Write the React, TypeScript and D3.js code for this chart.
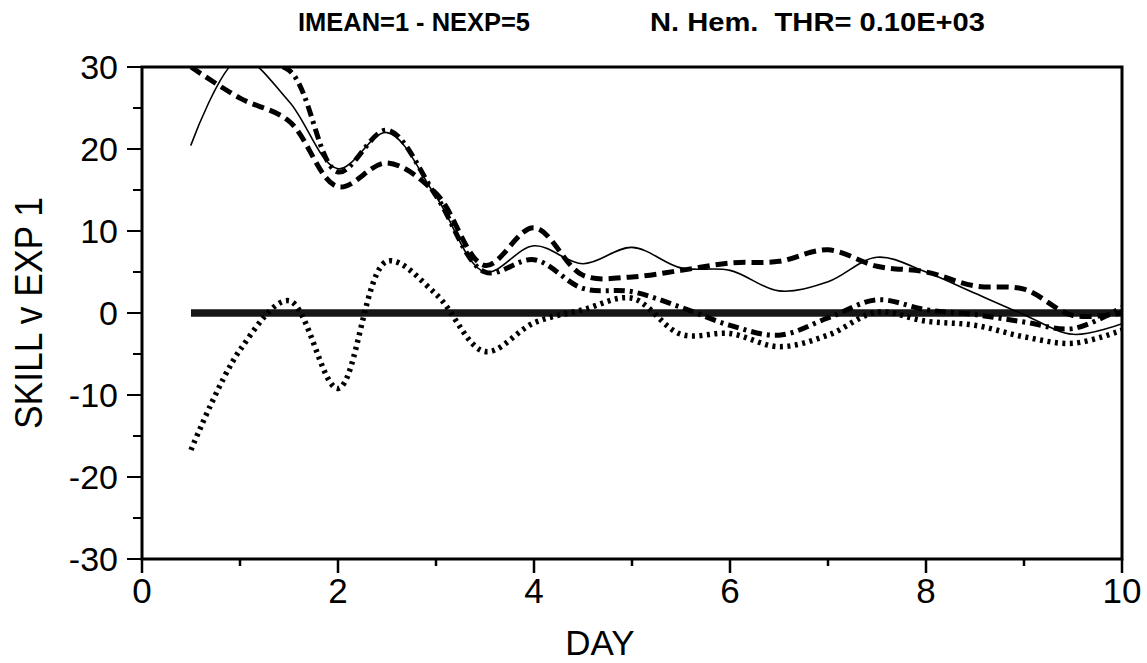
import React from "react";
import * as d3 from "d3";

// Forecast day of each sample
const days = [0.5, 1, 1.5, 2, 2.5, 3, 3.5, 4, 4.5, 5, 5.5, 6, 6.5, 7, 7.5, 8, 8.5, 9, 9.5, 10];

// Skill difference of each experiment relative to EXP 1
const exp1 = [0, 0, 0, 0, 0, 0, 0, 0, 0, 0, 0, 0, 0, 0, 0, 0, 0, 0, 0, 0];
const exp2 = [20.5, 31.0, 25.8, 17.6, 22.0, 14.2, 5.0, 8.2, 6.0, 8.0, 5.5, 5.2, 2.7, 3.8, 6.8, 5.0, 2.4, -0.2, -2.6, -1.3];
const exp3 = [30.0, 26.2, 23.4, 15.4, 18.3, 14.6, 5.8, 10.4, 4.6, 4.4, 5.2, 6.1, 6.3, 7.7, 5.7, 5.0, 3.3, 2.9, -0.3, 0.0];
const exp4 = [33.0, 30.6, 29.6, 17.2, 22.3, 14.3, 5.0, 6.5, 3.0, 2.6, 0.7, -1.5, -2.7, -0.6, 1.6, 0.4, -0.2, -1.1, -1.9, 0.7];
const exp5 = [-16.7, -4.5, 1.5, -9.2, 6.3, 2.3, -4.7, -1.2, 0.4, 1.8, -2.6, -2.5, -4.1, -2.7, 0.1, -1.0, -1.5, -2.9, -3.7, -2.1];

const xTicks = [0, 2, 4, 6, 8, 10];
const xMinorTicks = [1, 3, 5, 7, 9];
const yTicks = [-30, -20, -10, 0, 10, 20, 30];
const yMinorTicks = [-25, -15, -5, 5, 15, 25];

const titleLeft = "IMEAN=1 - NEXP=5";
const titleRight = "N. Hem.  THR= 0.10E+03";
const xLabel = "DAY";
const yLabel = "SKILL v EXP 1";

const W = 1147;
const H = 663;
const left = 142;
const right = 1122;
const top = 67;
const bottom = 559;

const FONT = "'Liberation Sans', Arial, Helvetica, sans-serif";

export default function App() {
  const x = d3.scaleLinear().domain([0, 10]).range([left, right]);
  const y = d3.scaleLinear().domain([-30, 30]).range([bottom, top]);

  const line = (vals: number[]) =>
    d3
      .line<number>()
      .x((_, i) => x(days[i]))
      .y((v) => y(v))
      .curve(d3.curveCatmullRom.alpha(0.5))(vals) || "";

  const series = [
    { vals: exp1, width: 7.5, dash: "none", color: "#161616", cap: "butt" },
    { vals: exp2, width: 1.6, dash: "none", color: "#000", cap: "round" },
    { vals: exp3, width: 5, dash: "12,6", color: "#000", cap: "butt" },
    { vals: exp4, width: 5, dash: "11,5,3,5", color: "#000", cap: "butt" },
    { vals: exp5, width: 5.5, dash: "3,4.5", color: "#000", cap: "butt" },
  ];

  return (
    <svg
      width={W}
      height={H}
      viewBox={`0 0 ${W} ${H}`}
      style={{ position: "fixed", left: 0, top: 0, background: "#fff" }}
    >
      <defs>
        <clipPath id="plot">
          <rect x={left} y={top} width={right - left} height={bottom - top} />
        </clipPath>
      </defs>
      <rect width={W} height={H} fill="#fff" />

      {/* title */}
      <text x={298} y={31} fontFamily={FONT} fontWeight="bold" fontSize={26} textLength={232} lengthAdjust="spacingAndGlyphs">
        {titleLeft}
      </text>
      <text x={650} y={31} fontFamily={FONT} fontWeight="bold" fontSize={26} textLength={335} lengthAdjust="spacingAndGlyphs" style={{ whiteSpace: "pre" }}>
        {titleRight}
      </text>

      {/* curves */}
      <g clipPath="url(#plot)" fill="none">
        {series.map((s, i) => (
          <path
            key={i}
            d={line(s.vals)}
            stroke={s.color}
            strokeWidth={s.width}
            strokeDasharray={s.dash}
            strokeLinecap={s.cap as any}
            strokeLinejoin="round"
          />
        ))}
      </g>

      {/* frame */}
      <rect x={left} y={top} width={right - left} height={bottom - top} fill="none" stroke="#000" strokeWidth={3} />

      {/* x ticks */}
      {xTicks.map((t) => (
        <g key={`xt${t}`}>
          <line x1={x(t)} x2={x(t)} y1={bottom} y2={bottom + 14} stroke="#000" strokeWidth={2.5} />
          <text x={x(t)} y={bottom + 44} textAnchor="middle" fontFamily={FONT} fontSize={35}>
            {t}
          </text>
        </g>
      ))}
      {xMinorTicks.map((t) => (
        <line key={`xm${t}`} x1={x(t)} x2={x(t)} y1={bottom} y2={bottom + 7} stroke="#000" strokeWidth={2.5} />
      ))}

      {/* y ticks */}
      {yTicks.map((t) => (
        <g key={`yt${t}`}>
          <line x1={left - 15} x2={left} y1={y(t)} y2={y(t)} stroke="#000" strokeWidth={2} />
          <text x={118} y={y(t) + 12} textAnchor="end" fontFamily={FONT} fontSize={34}>
            {t}
          </text>
        </g>
      ))}
      {yMinorTicks.map((t) => (
        <line key={`ym${t}`} x1={left - 9} x2={left} y1={y(t)} y2={y(t)} stroke="#000" strokeWidth={2} />
      ))}

      {/* axis titles */}
      <text x={600} y={655} textAnchor="middle" fontFamily={FONT} fontSize={35}>
        {xLabel}
      </text>
      <text
        transform={`translate(42, ${313}) rotate(-90)`}
        textAnchor="middle"
        fontFamily={FONT}
        fontSize={38}
        textLength={232}
        lengthAdjust="spacingAndGlyphs"
      >
        {yLabel}
      </text>
    </svg>
  );
}
